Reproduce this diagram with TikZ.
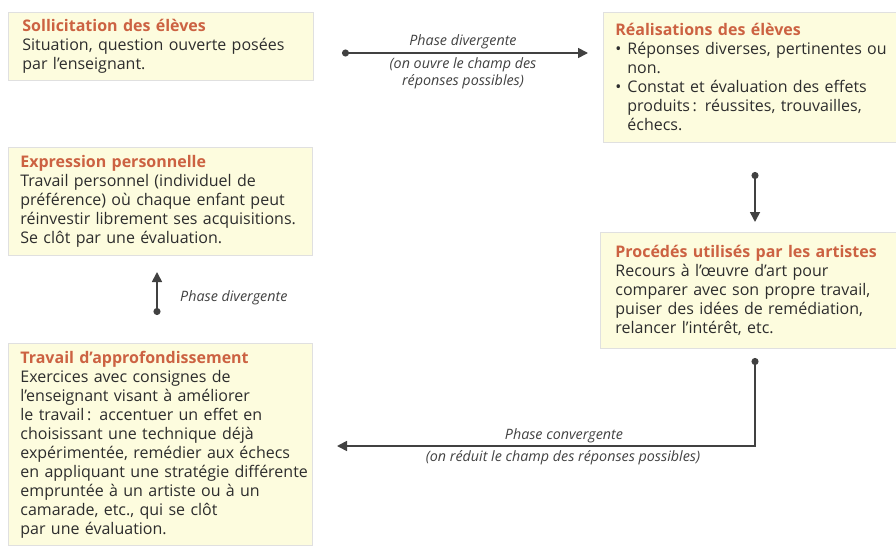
\documentclass[tikz,border=0pt]{standalone}
\usepackage{fontspec}
\setmainfont{Open Sans}
\usetikzlibrary{arrows.meta,calc}
\definecolor{boxfill}{RGB}{253,252,222}
\definecolor{titlecol}{RGB}{204,98,66}
\definecolor{txtcol}{RGB}{45,45,45}
\definecolor{linecol}{RGB}{65,65,65}
\tikzset{
 box/.style={draw=black!12, line width=0.8pt, fill=boxfill, anchor=north west, align=left, inner ysep=0pt, text=txtcol, font=\fontsize{16}{19}\selectfont},
 conn/.style={draw=linecol, line width=1.7pt, {Circle[length=7pt]}-{Triangle[length=10pt,width=10pt]}},
 lab/.style={text=linecol, font=\fontsize{14.3}{17.5}\selectfont\itshape, align=center, inner sep=1pt},
}
\newcommand{\ttl}[1]{\mbox{\bfseries\color{titlecol}#1}}
\newcommand{\tl}[1]{\mbox{#1}}
\newcommand{\bul}{\makebox[12pt][l]{•}}
\begin{document}
\begin{tikzpicture}[x=1pt,y=-1pt]
\useasboundingbox (0,0) rectangle (896,548);
\node[box, text width=277pt, inner xsep=14pt, minimum height=68pt] (s) at (8,12)
 {\ttl{Sollicitation des élèves}\\\tl{Situation, question ouverte posées}\\\tl{par l’enseignant.}};
\node[box, text width=290pt, inner xsep=12pt, minimum height=130pt] (r) at (603,12)
 {\ttl{Réalisations des élèves}\\\tl{\bul Réponses diverses, pertinentes ou}\\\tl{\hspace*{12pt}non.}\\\tl{\bul Constat et évaluation des effets}\\\tl{\hspace*{12pt}produits\,: réussites, trouvailles,}\\\tl{\hspace*{12pt}échecs.}};
\node[box, text width=280pt, inner xsep=12pt, minimum height=108pt] (e) at (8,147)
 {\ttl{Expression personnelle}\\\tl{Travail personnel (individuel de}\\\tl{préférence) où chaque enfant peut}\\\tl{réinvestir librement ses acquisitions.}\\\tl{Se clôt par une évaluation.}};
\node[box, text width=290pt, inner xsep=15pt, minimum height=116pt] (p) at (600,232)
 {\ttl{Procédés utilisés par les artistes}\\\tl{Recours à l’œuvre d’art pour}\\\tl{comparer avec son propre travail,}\\\tl{puiser des idées de remédiation,}\\\tl{relancer l’intérêt, etc.}};
\node[box, text width=280pt, inner xsep=12pt, minimum height=202pt] (a) at (8,343)
 {\ttl{Travail d’approfondissement}\\\tl{Exercices avec consignes de}\\\tl{l’enseignant visant à améliorer}\\\tl{le travail\,: accentuer un effet en}\\\tl{choisissant une technique déjà}\\\tl{expérimentée, remédier aux échecs}\\\tl{en appliquant une stratégie différente}\\\tl{empruntée à un artiste ou à un}\\\tl{camarade, etc., qui se clôt}\\\tl{par une évaluation.}};
% connectors
\coordinate (t1) at (342,53); \coordinate (t2) at (588,53);
\draw[conn] (t1) -- (t2);
\node[lab, anchor=south] (l1) at (463,50) {Phase divergente};
\node[lab, anchor=north] (l2) at (463,56) {(on ouvre le champ des\\réponses possibles)};
\coordinate (v1) at (755,172); \coordinate (v2) at (755,222);
\draw[conn] (v1) -- (v2);
\coordinate (w1) at (157,315); \coordinate (w2) at (157,272);
\draw[conn] (w1) -- (w2);
\node[lab, anchor=west] (l3) at (179,298) {Phase divergente};
\coordinate (b1) at (755,358); \coordinate (b2) at (755,446); \coordinate (b3) at (337,446);
\draw[conn] (b1) -- (b2) -- (b3);
\node[lab, anchor=south] (l4) at (564,444) {Phase convergente};
\node[lab, anchor=north] (l5) at (563,449) {(on réduit le champ des réponses possibles)};
\end{tikzpicture}
\end{document}
